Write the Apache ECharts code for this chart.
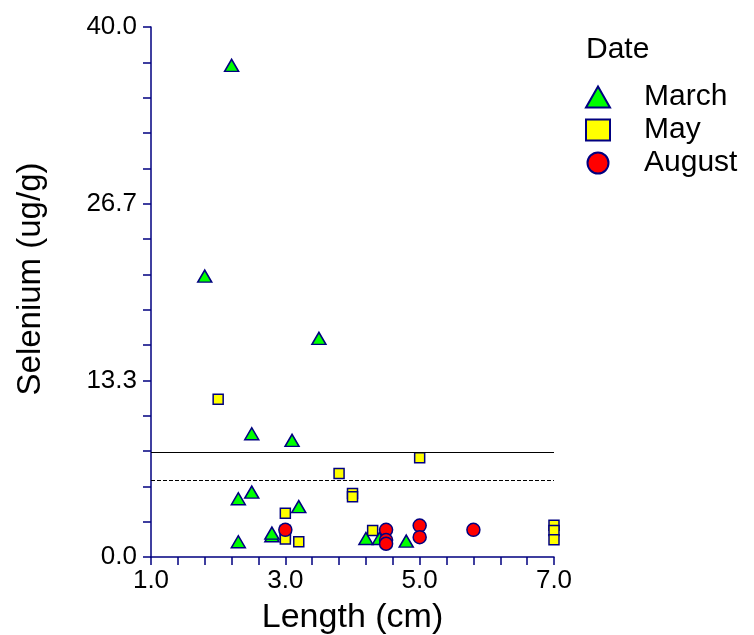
<!DOCTYPE html>
<html>
<head>
<meta charset="utf-8">
<script src="https://cdn.jsdelivr.net/npm/echarts@6/dist/echarts.min.js"></script>
<style>html,body{margin:0;padding:0;background:#fff}#c{width:754px;height:635px}</style>
</head>
<body>
<div id="c"></div>
<script>
const seriesNames = ['March', 'May', 'August'];
const marchX = [2.2, 1.8, 3.5, 2.5, 3.1, 2.3, 2.5, 3.2, 2.8, 2.8, 2.3, 4.2, 4.4, 4.8];
const marchY = [37.1, 21.2, 16.5, 9.3, 8.8, 4.4, 4.9, 3.8, 1.6, 1.8, 1.15, 1.4, 1.4, 1.2];
const mayX = [2.0, 5.0, 3.8, 4.0, 4.0, 3.0, 3.0, 3.0, 3.0, 3.2, 4.3, 7.0, 7.0, 7.0];
const mayY = [11.9, 7.5, 6.3, 4.8, 4.55, 3.3, 2.0, 1.6, 1.35, 1.15, 2.0, 2.4, 2.0, 1.3];
const augX = [3.0, 4.5, 4.5, 4.5, 5.0, 5.0, 5.8];
const augY = [2.05, 2.05, 1.28, 1.0, 2.37, 1.5, 2.05];
const refSolid = 7.9;
const refDashed = 5.8;
const xTicks = [1.0, 3.0, 5.0, 7.0];
const yTicks = [0.0, 13.3, 26.7, 40.0];

const pairs = (xs, ys) => xs.map((x, i) => [x, ys[i]]);
const navy = '#000080';
const font = '"Liberation Sans", Arial, sans-serif';

const chart = echarts.init(document.getElementById('c'), null, {renderer: 'canvas'});
chart.setOption({
  animation: false,
  backgroundColor: '#fff',
  title: {
    text: 'Date', left: 586, top: 35, padding: 0,
    textStyle: {fontFamily: font, fontSize: 30, fontWeight: 'normal', color: '#000'}
  },
  legend: {
    orient: 'vertical', left: 585, top: 82, padding: 0,
    itemWidth: 24, itemHeight: 21, itemGap: 3,
    textStyle: {fontFamily: font, fontSize: 30, color: '#000', padding: [0, 0, 0, 29], lineHeight: 30},
    data: seriesNames
  },
  grid: {left: 151, right: 200, top: 27, bottom: 78, containLabel: false, outerBoundsMode: 'none'},
  xAxis: {
    type: 'value', min: xTicks[0], max: xTicks[xTicks.length - 1], interval: 2,
    name: 'Length (cm)', nameLocation: 'middle', nameGap: 44,
    nameTextStyle: {fontFamily: font, fontSize: 34, color: '#000'},
    axisLine: {show: true, lineStyle: {color: navy, width: 1.5}},
    axisTick: {show: true, inside: false, length: 8, lineStyle: {color: navy, width: 1.5}},
    minorTick: {show: true, splitNumber: 5, length: 8, lineStyle: {color: navy, width: 1.5}},
    splitLine: {show: false},
    axisLabel: {fontFamily: font, fontSize: 26, color: '#000', margin: 11,
      formatter: v => v.toFixed(1)}
  },
  yAxis: {
    type: 'value', min: yTicks[0], max: yTicks[yTicks.length - 1], interval: 40 / 3,
    name: 'Selenium (ug/g)', nameLocation: 'middle', nameGap: 104, nameRotate: 90,
    nameTextStyle: {fontFamily: font, fontSize: 33, color: '#000', padding: [0, 0, 0, 26]},
    axisLine: {show: true, lineStyle: {color: navy, width: 1.5}},
    axisTick: {show: true, inside: false, length: 8, lineStyle: {color: navy, width: 1.5}},
    minorTick: {show: true, splitNumber: 5, length: 8, lineStyle: {color: navy, width: 1.5}},
    splitLine: {show: false},
    axisLabel: {fontFamily: font, fontSize: 26, color: '#000', margin: 14,
      formatter: v => v.toFixed(1)}
  },
  series: [
    {
      name: seriesNames[0], type: 'scatter', symbol: 'triangle', symbolSize: [14, 12],
      itemStyle: {color: '#00ff00', borderColor: navy, borderWidth: 1.5, opacity: 1},
      data: pairs(marchX, marchY), z: 3,
      markLine: {
        silent: true, symbol: 'none', label: {show: false},
        data: [
          {yAxis: refSolid, lineStyle: {type: 'solid', color: '#000', width: 1.2}},
          {yAxis: refDashed, lineStyle: {type: [4, 2], color: '#000', width: 1.2}}
        ]
      }
    },
    {
      name: seriesNames[1], type: 'scatter', symbol: 'rect', symbolSize: 10,
      itemStyle: {color: '#ffff00', borderColor: navy, borderWidth: 1.5, opacity: 1},
      data: pairs(mayX, mayY), z: 4
    },
    {
      name: seriesNames[2], type: 'scatter', symbol: 'circle', symbolSize: 13,
      itemStyle: {color: '#ff0000', borderColor: navy, borderWidth: 1.5, opacity: 1},
      data: pairs(augX, augY), z: 5
    }
  ]
});
</script>
</body>
</html>
